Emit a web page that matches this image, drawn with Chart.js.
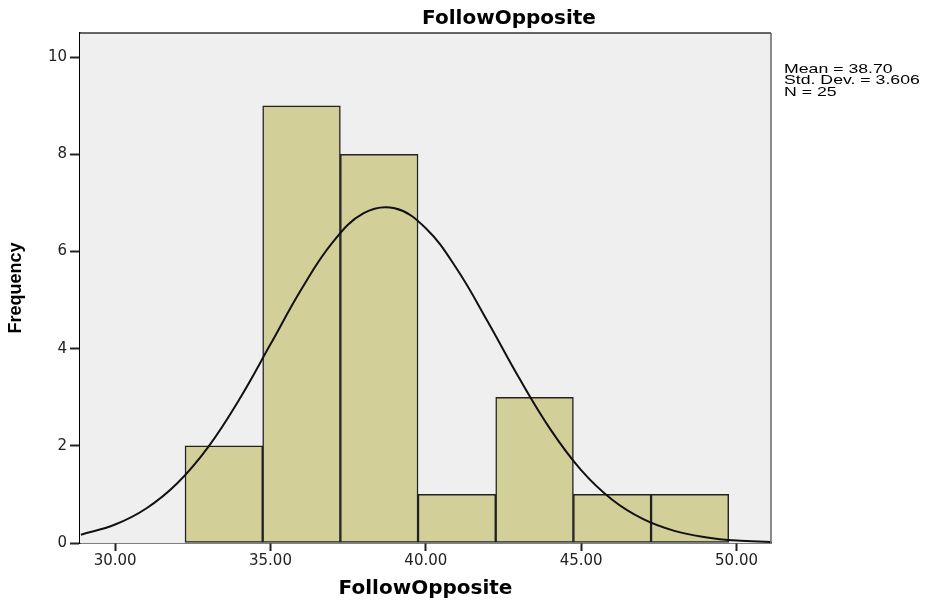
<!DOCTYPE html>
<html>
<head>
<meta charset="utf-8">
<script src="https://cdn.jsdelivr.net/npm/chart.js@4/dist/chart.umd.min.js"></script>
<style>
body{margin:0;background:#fff;}
#wrap{width:926px;height:605px;}
</style>
</head>
<body>
<div id="wrap"><canvas id="hist" width="926" height="605"></canvas></div>
<script>
// histogram bins (centres, width 2.5) and counts
const binCenters = [33.5, 36, 38.5, 41, 43.5, 46, 48.5];
const counts = [2, 9, 8, 1, 3, 1, 1];
// normal curve
const curveX = [28.9, 30, 31, 32, 33, 34, 35, 36, 37, 38, 39, 40, 41, 42, 43, 44, 45, 46, 47, 48, 49, 50, 51.1];
const curveY = [0.17, 0.38, 0.71, 1.23, 1.98, 2.96, 4.09, 5.23, 6.19, 6.79, 6.89, 6.48, 5.64, 4.55, 3.40, 2.35, 1.50, 0.89, 0.49, 0.25, 0.12, 0.05, 0.02];
const yTicks = [0, 2, 4, 6, 8, 10];
const xTicks = [30, 35, 40, 45, 50];
const statLines = ['Mean = 38.70', 'Std. Dev. = 3.606', 'N = 25'];
const chartTitle = 'FollowOpposite';

const plotBg = {
    id: 'plotBg',
    beforeDatasetsDraw(chart){
        const {ctx, chartArea:a} = chart;
        ctx.save();
        ctx.fillStyle = '#efefef';
        ctx.fillRect(a.left, a.top, a.right - a.left, a.bottom - a.top);
        ctx.restore();
    },
    afterDraw(chart){
        const {ctx, chartArea:a} = chart;
        ctx.save();
        ctx.strokeStyle = '#333';
        ctx.lineWidth = 1.5;
        ctx.beginPath();
        ctx.moveTo(a.left, a.top);
        ctx.lineTo(a.right, a.top);
        ctx.stroke();
        ctx.strokeStyle = '#666';
        ctx.beginPath();
        ctx.moveTo(a.right, a.top);
        ctx.lineTo(a.right, a.bottom);
        ctx.stroke();
        // title
        ctx.fillStyle = '#000';
        ctx.font = 'bold 20px "DejaVu Sans"';
        ctx.textAlign = 'center';
        ctx.textBaseline = 'alphabetic';
        ctx.fillText(chartTitle, 509, 24);
        // stats box
        ctx.font = '13.5px "Liberation Sans"';
        ctx.textAlign = 'left';
        statLines.forEach((t, i)=>{
            ctx.save();
            ctx.translate(784, 72.5 + i * 11.5);
            ctx.scale(1.31, 1);
            ctx.fillText(t, 0, 0);
            ctx.restore();
        });
        ctx.restore();
    }
};

function drawChart(){
    const ctx = document.getElementById('hist').getContext('2d');
    new Chart(ctx, {
        type: 'bar',
        data: {
            datasets: [
                {
                    type: 'line',
                    order: 0,
                    data: curveX.map((x, i)=>({x: x, y: curveY[i]})),
                    borderColor: '#111',
                    borderWidth: 2,
                    pointRadius: 0,
                    fill: false,
                    tension: 0.4
                },
                {
                    type: 'bar',
                    order: 1,
                    data: binCenters.map((x, i)=>({x: x, y: counts[i]})),
                    backgroundColor: '#d3cf99',
                    borderColor: '#222',
                    borderWidth: 1.5,
                    borderSkipped: false,
                    barPercentage: 1,
                    categoryPercentage: 1
                }
            ]
        },
        options: {
            responsive: false,
            animation: false,
            layout: {padding: {top: 33, right: 155, left: 0, bottom: 0}},
            plugins: {legend: {display: false}, tooltip: {enabled: false}},
            scales: {
                x: {
                    type: 'linear',
                    min: 28.87,
                    max: 51.11,
                    offset: false,
                    afterFit: s=>{ s.height = 62; },
                    afterBuildTicks: s=>{ s.ticks = xTicks.map(v=>({value: v})); },
                    ticks: {
                        includeBounds: false,
                        stepSize: 5,
                        color: '#222',
                        padding: 1,
                        maxRotation: 0,
                        font: {family: '"DejaVu Sans"', size: 15},
                        callback: v=>Number(v).toFixed(2)
                    },
                    grid: {offset: false, drawOnChartArea: false, drawTicks: true, tickLength: 8, tickColor: '#222', tickWidth: 2},
                    border: {display: true, color: '#000', width: 1.5},
                    title: {
                        display: true,
                        text: 'FollowOpposite',
                        color: '#000',
                        padding: {top: 0, bottom: 4},
                        font: {family: '"DejaVu Sans"', size: 20, weight: 'bold'}
                    }
                },
                y: {
                    min: 0,
                    max: 10.5,
                    afterFit: s=>{ s.width = 80; },
                    afterBuildTicks: s=>{ s.ticks = yTicks.map(v=>({value: v})); },
                    ticks: {
                        stepSize: 2,
                        color: '#222',
                        padding: 3,
                        font: {family: '"DejaVu Sans"', size: 15}
                    },
                    grid: {drawOnChartArea: false, drawTicks: true, tickLength: 10, tickColor: '#222', tickWidth: 2},
                    border: {display: true, color: '#000', width: 1.5},
                    title: {
                        display: true,
                        text: 'Frequency',
                        color: '#000',
                        padding: {top: 5, bottom: 0},
                        font: {family: '"Liberation Sans"', size: 18, weight: 'bold'}
                    }
                }
            }
        },
        plugins: [plotBg]
    });
}

window.onload = drawChart;
</script>
</body>
</html>
